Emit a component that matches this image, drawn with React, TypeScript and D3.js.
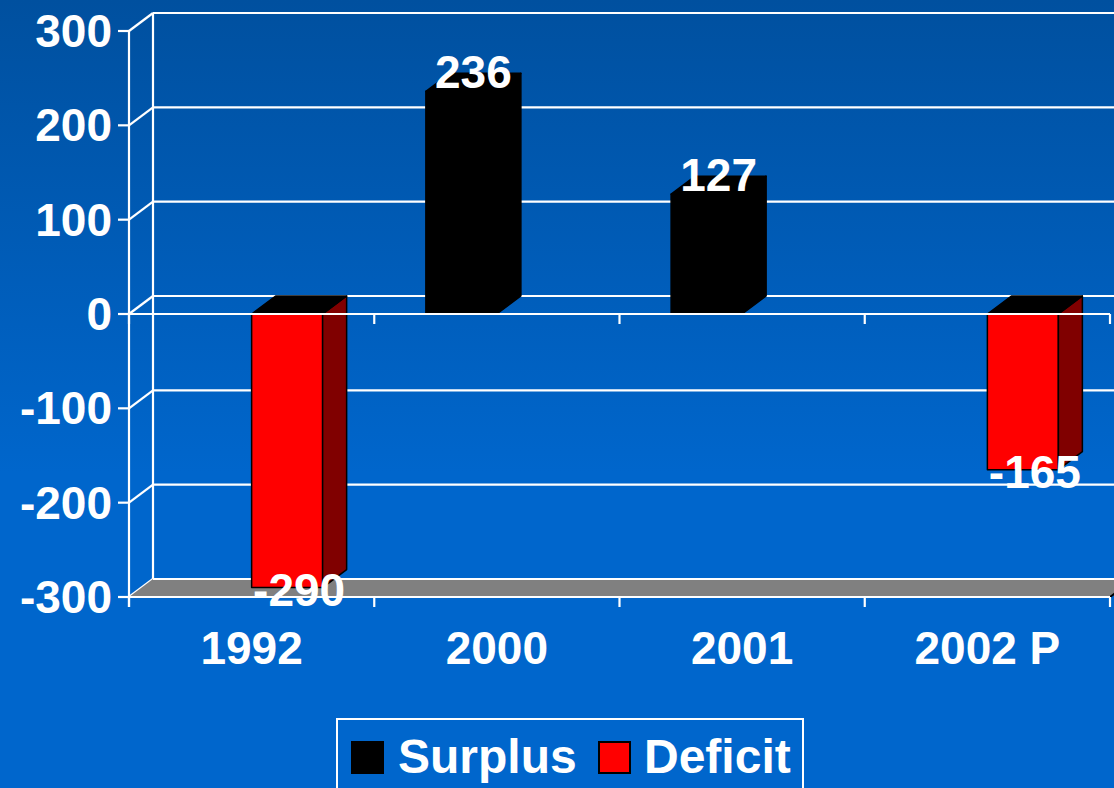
import React, { useEffect, useRef } from "react";
import * as d3 from "d3";

const categories = ["1992", "2000", "2001", "2002 P"];
const seriesNames = ["Surplus", "Deficit"];
const surplus = [null, 236, 127, null];
const deficit = [-290, null, null, -165];
const yTicks = [-300, -200, -100, 0, 100, 200, 300];

const App = () => {
  const ref = useRef<SVGSVGElement>(null);

  useEffect(() => {
    const W = 1114;
    const H = 788;
    const dx = 24; // depth offset
    const dy = 18;
    const font = "'Liberation Sans', Arial, sans-serif";

    const svg = d3.select(ref.current).attr("width", W).attr("height", H);
    svg.selectAll("*").remove();

    const defs = svg.append("defs");
    const grad = defs
      .append("linearGradient")
      .attr("id", "bg")
      .attr("x1", 0)
      .attr("y1", 0)
      .attr("x2", 0)
      .attr("y2", 1);
    grad.append("stop").attr("offset", "0%").attr("stop-color", "#00509f");
    grad.append("stop").attr("offset", "60%").attr("stop-color", "#0066cc");
    grad.append("stop").attr("offset", "100%").attr("stop-color", "#0066cc");

    svg.append("rect").attr("width", W).attr("height", H).attr("fill", "url(#bg)");

    const y = d3.scaleLinear().domain([-300, 300]).range([597, 31]);
    const x = d3.scaleBand().domain(categories).range([129, 1110]).padding(0);
    const xs = d3
      .scaleBand()
      .domain(seriesNames)
      .range([0, x.bandwidth()])
      .paddingInner(0)
      .paddingOuter(0.727);

    const x0 = 129;
    const x1 = 1110;
    const g = svg.append("g");

    // back wall gridlines
    g.selectAll(".grid")
      .data(yTicks)
      .join("line")
      .attr("x1", x0 + dx)
      .attr("x2", x1 + dx)
      .attr("y1", (d) => y(d) - dy)
      .attr("y2", (d) => y(d) - dy)
      .attr("stroke", "#fff")
      .attr("stroke-width", 2.2);

    // side wall diagonals
    g.selectAll(".diag")
      .data(yTicks)
      .join("line")
      .attr("x1", x0)
      .attr("x2", x0 + dx)
      .attr("y1", (d) => y(d))
      .attr("y2", (d) => y(d) - dy)
      .attr("stroke", "#fff")
      .attr("stroke-width", 2.2);

    // back vertical edge
    g.append("line")
      .attr("x1", x0 + dx)
      .attr("x2", x0 + dx)
      .attr("y1", y(300) - dy)
      .attr("y2", y(-300) - dy)
      .attr("stroke", "#fff")
      .attr("stroke-width", 2.2);

    // floor
    const fy = y(-300);
    g.append("polygon")
      .attr(
        "points",
        [
          [x0, fy],
          [x0 + dx, fy - dy],
          [x1 + dx, fy - dy],
          [x1, fy],
        ]
          .map((p) => p.join(","))
          .join(" ")
      )
      .attr("fill", "#808080");
    g.append("line")
      .attr("x1", x0 + dx)
      .attr("x2", x1 + dx)
      .attr("y1", fy - dy)
      .attr("y2", fy - dy)
      .attr("stroke", "#fff")
      .attr("stroke-width", 2.2);
    g.append("line")
      .attr("x1", x1)
      .attr("x2", x1 + dx)
      .attr("y1", fy)
      .attr("y2", fy - dy)
      .attr("stroke", "#000")
      .attr("stroke-width", 2);

    // front vertical axis and ticks
    g.append("line")
      .attr("x1", x0)
      .attr("x2", x0)
      .attr("y1", y(300))
      .attr("y2", fy + 10)
      .attr("stroke", "#fff")
      .attr("stroke-width", 2.2);
    g.selectAll(".ytick")
      .data(yTicks)
      .join("line")
      .attr("x1", x0 - 11)
      .attr("x2", x0)
      .attr("y1", (d) => y(d))
      .attr("y2", (d) => y(d))
      .attr("stroke", "#fff")
      .attr("stroke-width", 2.2);

    // bars
    const bars: { cat: string; s: string; v: number }[] = [];
    categories.forEach((c, i) => {
      if (surplus[i] != null) bars.push({ cat: c, s: "Surplus", v: surplus[i] as number });
      if (deficit[i] != null) bars.push({ cat: c, s: "Deficit", v: deficit[i] as number });
    });
    const colors: Record<string, { front: string; side: string; top: string }> = {
      Surplus: { front: "#000000", side: "#000000", top: "#000000" },
      Deficit: { front: "#ff0000", side: "#800000", top: "#000000" },
    };
    const pts = (a: number[][]) => a.map((p) => p.join(",")).join(" ");

    bars.forEach((b) => {
      const bx0 = (x(b.cat) as number) + (xs(b.s) as number);
      const bx1 = bx0 + xs.bandwidth();
      const yt = Math.min(y(b.v), y(0));
      const yb = Math.max(y(b.v), y(0));
      const c = colors[b.s];
      const bg = g.append("g").attr("stroke", "#000").attr("stroke-width", 1.5).attr("stroke-linejoin", "round");
      bg.append("rect")
        .attr("x", bx0)
        .attr("y", yt)
        .attr("width", bx1 - bx0)
        .attr("height", yb - yt)
        .attr("fill", c.front);
      bg.append("polygon")
        .attr("points", pts([[bx1, yt], [bx1 + dx, yt - dy], [bx1 + dx, yb - dy], [bx1, yb]]))
        .attr("fill", c.side);
      bg.append("polygon")
        .attr("points", pts([[bx0, yt], [bx0 + dx, yt - dy], [bx1 + dx, yt - dy], [bx1, yt]]))
        .attr("fill", c.top);
    });

    // front zero line and bottom line with ticks
    [0, -300].forEach((v) => {
      g.append("line")
        .attr("x1", x0)
        .attr("x2", x1)
        .attr("y1", y(v))
        .attr("y2", y(v))
        .attr("stroke", "#fff")
        .attr("stroke-width", 2.2);
      g.selectAll(null)
        .data(categories.map((c) => x(c) as number).concat([x1]))
        .join("line")
        .attr("x1", (d) => d)
        .attr("x2", (d) => d)
        .attr("y1", y(v))
        .attr("y2", y(v) + 10)
        .attr("stroke", "#fff")
        .attr("stroke-width", 2.2);
    });

    const txt = (sel: any) =>
      sel
        .attr("fill", "#fff")
        .attr("font-family", font)
        .attr("font-weight", "bold")
        .attr("font-size", 46);

    // y tick labels
    g.selectAll(".ylab")
      .data(yTicks)
      .join("text")
      .call(txt)
      .attr("x", 112)
      .attr("y", (d) => y(d) + 16)
      .attr("text-anchor", "end")
      .text((d) => d);

    // category labels
    g.selectAll(".xlab")
      .data(categories)
      .join("text")
      .call(txt)
      .attr("x", (d) => (x(d) as number) + x.bandwidth() / 2)
      .attr("y", 664)
      .attr("text-anchor", "middle")
      .text((d) => d);

    // value labels
    g.selectAll(".vlab")
      .data(bars)
      .join("text")
      .call(txt)
      .attr("x", (d) => (x(d.cat) as number) + (xs(d.s) as number) + xs.bandwidth() / 2 + dx / 2)
      .attr("y", (d) => (d.v >= 0 ? y(d.v) - 3 : y(d.v) + 18))
      .attr("text-anchor", "middle")
      .text((d) => d.v);

    // legend
    const lg = svg.append("g");
    lg.append("rect")
      .attr("x", 337)
      .attr("y", 719)
      .attr("width", 466)
      .attr("height", 100)
      .attr("fill", "none")
      .attr("stroke", "#fff")
      .attr("stroke-width", 2);
    const items = [
      { name: "Surplus", fill: "#000000", sx: 352, tx: 398 },
      { name: "Deficit", fill: "#ff0000", sx: 599, tx: 644 },
    ];
    items.forEach((it) => {
      lg.append("rect")
        .attr("x", it.sx)
        .attr("y", 742)
        .attr("width", 31)
        .attr("height", 31)
        .attr("fill", it.fill)
        .attr("stroke", "#000")
        .attr("stroke-width", 2);
      lg.append("text")
        .call(txt)
        .attr("font-size", 48)
        .attr("x", it.tx)
        .attr("y", 773)
        .text(it.name);
    });
  }, []);

  return <svg ref={ref} style={{ position: "absolute", left: 0, top: 0, display: "block" }} />;
};

export default App;
